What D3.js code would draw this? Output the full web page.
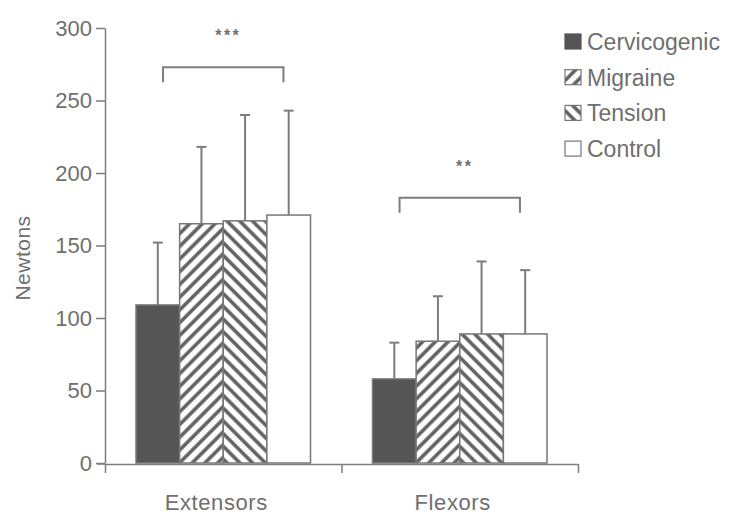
<!DOCTYPE html>
<meta charset="utf-8">
<head>
    <script src="https://d3js.org/d3.v7.min.js"></script>
    <style>
        body { margin: 0; background: #fff; }
        text { font-family: "Liberation Sans", Arial, sans-serif; fill: #6f6f6f; }
    </style>
</head>
<body>
<div id="chart"></div>

<script>
    // data
    const categories = ["Extensors", "Flexors"]
    const groups = ["Cervicogenic", "Migraine", "Tension", "Control"]
    const extensorMeans = [109, 165, 167, 171]
    const extensorErrors = [43, 53, 73, 72]
    const flexorMeans = [58, 84, 89, 89]
    const flexorErrors = [25, 31, 50, 44]
    const yTicks = [0, 50, 100, 150, 200, 250, 300]
    const sigLabels = ["***", "**"]
    const sigLevels = [273, 183]

    const means = [extensorMeans, flexorMeans]
    const errors = [extensorErrors, flexorErrors]

    const svg = d3.select("#chart").append("svg")
        .attr("width", 736)
        .attr("height", 517)

    const defs = svg.append("defs")
    function stripes(id, angle) {
        const p = defs.append("pattern")
            .attr("id", id)
            .attr("patternUnits", "userSpaceOnUse")
            .attr("width", 9)
            .attr("height", 9)
            .attr("patternTransform", `rotate(${angle})`)
        p.append("rect").attr("width", 9).attr("height", 9).attr("fill", "#fff")
        p.append("line")
            .attr("x1", 2).attr("x2", 2)
            .attr("y1", 0).attr("y2", 9)
            .attr("stroke", "#5f5f5f")
            .attr("stroke-width", 3.5)
    }
    stripes("hatchMigraine", 45)
    stripes("hatchTension", -45)

    const fills = {
        Cervicogenic: "#555555",
        Migraine: "url(#hatchMigraine)",
        Tension: "url(#hatchTension)",
        Control: "#ffffff"
    }

    const y = d3.scaleLinear()
        .domain([0, 300])
        .range([463, 28])

    const x0 = d3.scaleBand()
        .domain(categories)
        .range([105, 578])

    const x1 = d3.scaleBand()
        .domain(groups)
        .range([31, 205.5])

    const gray = "#7d7d7d"

    // y axis
    const leftAxis = d3.axisLeft(y).tickValues(yTicks).tickSize(9).tickSizeOuter(0)
    const ya = svg.append("g")
        .attr("transform", "translate(105, 0)")
        .call(leftAxis)
    ya.select(".domain").attr("stroke", gray).attr("stroke-width", 1.5)
    ya.selectAll(".tick line").attr("stroke", gray).attr("stroke-width", 1.5)
    ya.selectAll(".tick text")
        .attr("x", -13)
        .attr("font-size", 22)
        .attr("fill", "#6f6f6f")
        .attr("font-family", null)

    svg.append("text")
        .attr("transform", "translate(30, 258) rotate(-90)")
        .attr("text-anchor", "middle")
        .attr("font-size", 21)
        .attr("letter-spacing", 0.5)
        .text("Newtons")

    // x axis with ticks at category boundaries
    const xb = d3.scaleLinear().domain([0, categories.length]).range(x0.range())
    const bottomAxis = d3.axisBottom(xb).tickValues(d3.range(categories.length + 1))
        .tickSize(9).tickSizeOuter(0).tickFormat("")
    const xa = svg.append("g")
        .attr("transform", "translate(0, 464)")
        .call(bottomAxis)
    xa.select(".domain").attr("stroke", gray).attr("stroke-width", 1.5)
    xa.selectAll(".tick line").attr("stroke", gray).attr("stroke-width", 1.5)
    svg.append("line")
        .attr("x1", 97).attr("x2", 105)
        .attr("y1", 464).attr("y2", 464)
        .attr("stroke", gray).attr("stroke-width", 1.5)

    svg.selectAll(".cat-label")
        .data(categories)
        .enter()
        .append("text")
        .attr("class", "cat-label")
        .attr("x", d => x0(d) + x0.bandwidth() / 2 - 7)
        .attr("y", 510)
        .attr("text-anchor", "middle")
        .attr("font-size", 22)
        .attr("letter-spacing", 0.6)
        .text(d => d)

    // bars
    categories.forEach((cat, ci) => {
        const g = svg.append("g").attr("transform", `translate(${x0(cat)}, 0)`)
        const rows = groups.map((grp, gi) => ({ grp, mean: means[ci][gi], err: errors[ci][gi] }))

        g.selectAll(".err")
            .data(rows)
            .enter()
            .append("line")
            .attr("x1", d => x1(d.grp) + x1.bandwidth() / 2)
            .attr("x2", d => x1(d.grp) + x1.bandwidth() / 2)
            .attr("y1", d => y(d.mean))
            .attr("y2", d => y(d.mean + d.err))
            .attr("stroke", gray)
            .attr("stroke-width", 2)

        g.selectAll(".cap")
            .data(rows)
            .enter()
            .append("line")
            .attr("x1", d => x1(d.grp) + x1.bandwidth() / 2 - 5)
            .attr("x2", d => x1(d.grp) + x1.bandwidth() / 2 + 5)
            .attr("y1", d => y(d.mean + d.err))
            .attr("y2", d => y(d.mean + d.err))
            .attr("stroke", gray)
            .attr("stroke-width", 2)

        g.selectAll("rect")
            .data(rows)
            .enter()
            .append("rect")
            .attr("x", d => x1(d.grp))
            .attr("y", d => y(d.mean))
            .attr("width", x1.bandwidth())
            .attr("height", d => y(0) - y(d.mean))
            .attr("fill", d => fills[d.grp])
            .attr("stroke", "#777")
            .attr("stroke-width", 1.5)

        // significance bracket
        const bl = x1(groups[0]) + x1.bandwidth() * 0.62
        const br = x1(groups[groups.length - 1]) + x1.bandwidth() * 0.38
        const by = y(sigLevels[ci])
        g.append("path")
            .attr("d", `M${bl},${by + 15}V${by}H${br}V${by + 15}`)
            .attr("fill", "none")
            .attr("stroke", gray)
            .attr("stroke-width", 2)
        g.append("text")
            .attr("x", (bl + br) / 2 + 5)
            .attr("y", by - 26)
            .attr("text-anchor", "middle")
            .attr("font-size", 16)
            .attr("font-weight", "bold")
            .attr("letter-spacing", 2.5)
            .text(sigLabels[ci])
    })

    // legend
    const legend = svg.append("g").attr("transform", "translate(565, 42)")
    groups.forEach((grp, i) => {
        const row = legend.append("g").attr("transform", `translate(0, ${i * 35.7})`)
        row.append("rect")
            .attr("x", 0).attr("y", -8)
            .attr("width", 16).attr("height", 15)
            .attr("fill", fills[grp])
            .attr("stroke", grp === "Cervicogenic" ? "#555" : "#777")
            .attr("stroke-width", 1.2)
        row.append("text")
            .attr("x", 22)
            .attr("y", 8)
            .attr("font-size", 23)
            .text(grp)
    })
</script>
</body>
